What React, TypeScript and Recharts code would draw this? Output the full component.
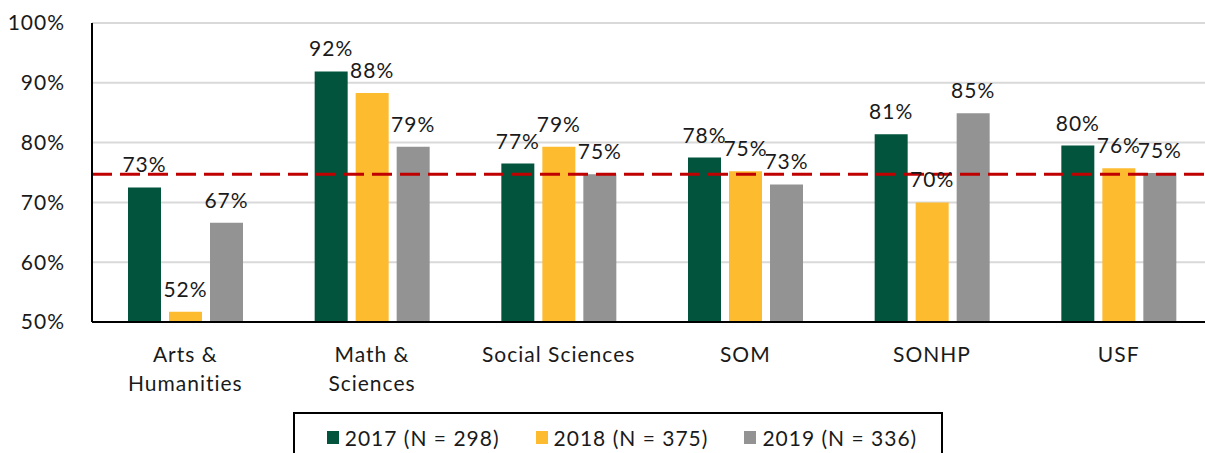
import { BarChart, Bar, XAxis, YAxis, CartesianGrid, ReferenceLine, LabelList, Legend } from 'recharts';

const categories = ['Arts & Humanities', 'Math & Sciences', 'Social Sciences', 'SOM', 'SONHP', 'USF'];
const categoryLines = [['Arts &', 'Humanities'], ['Math &', 'Sciences'], ['Social Sciences'], ['SOM'], ['SONHP'], ['USF']];
const values2017 = [72.5, 91.9, 76.5, 77.5, 81.4, 79.5];
const values2018 = [51.7, 88.3, 79.3, 75.2, 70.0, 75.7];
const values2019 = [66.6, 79.3, 74.7, 73.0, 84.9, 74.9];
const yTicks = [50, 60, 70, 80, 90, 100];
const averageLine = 74.7;

const series = [
  { key: 'y2017', name: '2017 (N = 298)', color: '#02543C', values: values2017 },
  { key: 'y2018', name: '2018 (N = 375)', color: '#FDBB30', values: values2018 },
  { key: 'y2019', name: '2019 (N = 336)', color: '#939393', values: values2019 },
];

const data = categories.map((c, i) => ({
  name: c,
  y2017: values2017[i],
  y2018: values2018[i],
  y2019: values2019[i],
}));

const FONT = 'Lato, "Open Sans", sans-serif';
const SIZE = 21;
const SPACING = 1;

function CategoryTick({ x, y, index }: any) {
  const lines = categoryLines[index] || [];
  return (
    <text x={x} y={y} textAnchor="middle" fill="#1a1a1a" fontSize={SIZE} fontFamily={FONT} letterSpacing={SPACING}>
      {lines.map((l, i) => (
        <tspan key={i} x={x} dy={i === 0 ? 32 : 29}>
          {l}
        </tspan>
      ))}
    </text>
  );
}

function LegendBox() {
  return (
    <div
      style={{
        boxSizing: 'border-box',
        width: 650,
        height: 60,
        border: '2px solid #000',
        display: 'flex',
        justifyContent: 'center',
        paddingTop: 11,
        paddingLeft: 8,
        gap: 36,
        fontFamily: FONT,
        fontSize: SIZE,
        letterSpacing: SPACING,
        color: '#1a1a1a',
      }}
    >
      {series.map((s) => (
        <div key={s.key} style={{ display: 'flex', alignItems: 'center', height: 24 }}>
          <span style={{ display: 'inline-block', width: 12, height: 13, background: s.color, marginRight: 6 }} />
          <span>{s.name}</span>
        </div>
      ))}
    </div>
  );
}

export default function App() {
  return (
    <div style={{ position: 'absolute', left: 0, top: 0, width: 1205, height: 453, overflow: 'hidden', background: '#fff' }}>
      <BarChart
        width={1212}
        height={480}
        data={data}
        margin={{ top: 23, right: 0, bottom: 0, left: 0 }}
        barSize={33}
        barGap={8}
      >
        <CartesianGrid vertical={false} stroke="#d9d9d9" strokeWidth={2} />
        <XAxis
          dataKey="name"
          height={158}
          tick={<CategoryTick />}
          tickLine={false}
          axisLine={{ stroke: '#000', strokeWidth: 2 }}
          interval={0}
        />
        <YAxis
          width={92}
          domain={[50, 100]}
          ticks={yTicks}
          tickFormatter={(v: number) => `${v}%`}
          tickLine={false}
          axisLine={{ stroke: '#000', strokeWidth: 2 }}
          tick={{ fill: '#1a1a1a', fontSize: SIZE, fontFamily: FONT, letterSpacing: SPACING }}
          tickMargin={21}
          allowDataOverflow
        />
        {series.map((s) => (
          <Bar key={s.key} dataKey={s.key} name={s.name} fill={s.color} isAnimationActive={false}>
            <LabelList
              dataKey={s.key}
              position="top"
              offset={15}
              formatter={(v: any) => `${Math.round(Number(v))}%`}
              style={{ fill: '#1a1a1a', fontSize: SIZE, fontFamily: FONT, letterSpacing: SPACING }}
            />
          </Bar>
        ))}
        <ReferenceLine y={averageLine} stroke="#C00000" strokeWidth={3} strokeDasharray="20 8" />
        <Legend
          verticalAlign="middle"
          align="center"
          content={<LegendBox />}
          wrapperStyle={{ top: 412, left: 293, width: 650, height: 60 }}
        />
      </BarChart>
    </div>
  );
}
